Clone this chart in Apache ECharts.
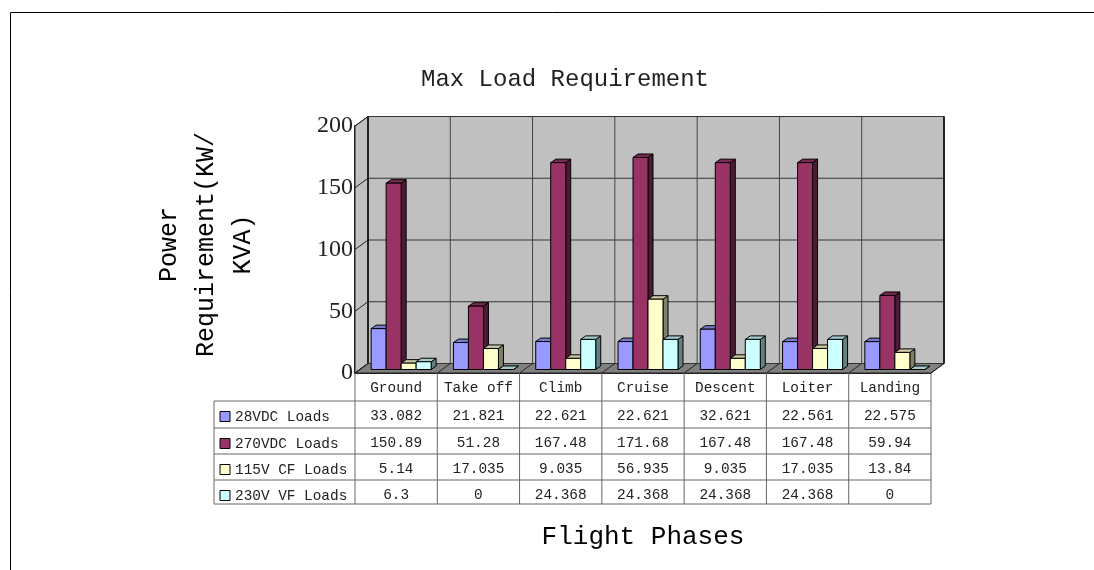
<!DOCTYPE html>
<html><head><meta charset="utf-8">
<style>html,body{margin:0;padding:0;background:#fff}#c{width:1094px;height:570px}</style>
<script src="https://cdn.jsdelivr.net/npm/echarts@6/dist/echarts.min.js"></script>
</head><body><div id="c"></div>
<script>
const categories = ['Ground','Take off','Climb','Cruise','Descent','Loiter','Landing'];
const loads28 = [33.082,21.821,22.621,22.621,32.621,22.561,22.575];
const loads270 = [150.89,51.28,167.48,171.68,167.48,167.48,59.94];
const loads115 = [5.14,17.035,9.035,56.935,9.035,17.035,13.84];
const loads230 = [6.3,0,24.368,24.368,24.368,24.368,0];
const seriesNames = ['28VDC Loads','270VDC Loads','115V CF Loads','230V VF Loads'];
const yTicks = [0,50,100,150,200];
const palette = [
  {front:'#9999FF',top:'#7a7acc',side:'#4d4d80'},
  {front:'#993366',top:'#7a2952',side:'#4d1a33'},
  {front:'#FFFFCC',top:'#cccca3',side:'#808066'},
  {front:'#CCFFFF',top:'#a3cccc',side:'#668080'}
];
const FONT = '"Liberation Mono", monospace';
const WALL_DX = 13, WALL_DY = -9.5, BAR_DX = 5, BAR_DY = -3.5;
const BAR_W = 15, BAR_SHIFT = 5;
const poly = (pts, fill, stroke, lw) => ({type:'polygon',shape:{points:pts},style:{fill:fill,stroke:stroke||'#000',lineWidth:lw===undefined?1:lw}});
const line = (x1,y1,x2,y2,stroke,lw) => ({type:'line',shape:{x1,y1,x2,y2},style:{stroke:stroke,lineWidth:lw||1,fill:null}});

function renderFrame(params, api){
  const n = categories.length;
  const w = api.size([1,0])[0];
  const x0 = api.coord([0,0])[0]-w/2, x1 = x0+n*w;
  const y0 = api.coord([0,0])[1], yT = api.coord([0,200])[1];
  const c = [];
  c.push(poly([[x0,y0],[x0+WALL_DX,y0+WALL_DY],[x0+WALL_DX,yT+WALL_DY],[x0,yT]],'#C0C0C0','#222',1));
  c.push(poly([[x0+WALL_DX,y0+WALL_DY],[x1+WALL_DX,y0+WALL_DY],[x1+WALL_DX,yT+WALL_DY],[x0+WALL_DX,yT+WALL_DY]],'#C0C0C0','#222',1));
  c.push(poly([[x0,y0],[x1,y0],[x1+WALL_DX,y0+WALL_DY],[x0+WALL_DX,y0+WALL_DY]],'#808080','#222',1));
  yTicks.forEach(t=>{
    const y = api.coord([0,t])[1];
    c.push(line(x0,y,x0+WALL_DX,y+WALL_DY,'#222',1));
    c.push(line(x0+WALL_DX,y+WALL_DY,x1+WALL_DX,y+WALL_DY,'#333',1));
  });
  for(let i=0;i<=n;i++){
    const x = x0+i*w;
    c.push(line(x,y0,x+WALL_DX,y0+WALL_DY,'#222',1));
    c.push(line(x+WALL_DX,y0+WALL_DY,x+WALL_DX,yT+WALL_DY,'#444',1));
  }
  c.push(line(x1+WALL_DX,y0+WALL_DY,x1+WALL_DX,yT+WALL_DY,'#222',2));
  c.push(line(x0+WALL_DX,y0+WALL_DY,x0+WALL_DX,yT+WALL_DY,'#222',2));
  return {type:'group',children:c};
}
function barRenderer(si){
  return function(params, api){
    const p = api.coord([api.value(0),api.value(1)]);
    const b = api.coord([api.value(0),0]);
    const col = palette[si];
    const l = p[0]+BAR_SHIFT+(si-2)*BAR_W, r = l+BAR_W;
    const t = p[1]+BAR_DY, bot = b[1]+BAR_DY;
    return {type:'group',children:[
      poly([[r,bot],[r+BAR_DX,bot+BAR_DY],[r+BAR_DX,t+BAR_DY],[r,t]],col.side),
      poly([[l,t],[r,t],[r+BAR_DX,t+BAR_DY],[l+BAR_DX,t+BAR_DY]],col.top),
      poly([[l,t],[r,t],[r,bot],[l,bot]],col.front)
    ]};
  };
}
const TABLE_LEFT = 214, HEADER_H = 28;
const ROW_LINES = [0,27,53,79,103];
function renderTable(params, api){
  const n = categories.length;
  const w = api.size([1,0])[0];
  const x0 = api.coord([0,0])[0]-w/2, x1 = x0+n*w;
  const y0 = api.coord([0,0])[1];
  const yH = y0+HEADER_H;
  const LINE = '#666';
  const c = [];
  ROW_LINES.forEach(d=>c.push(line(TABLE_LEFT,yH+d,x1,yH+d,LINE,1)));
  for(let i=0;i<=n;i++) c.push(line(x0+i*w,y0,x0+i*w,yH+ROW_LINES[4],LINE,1));
  c.push(line(TABLE_LEFT,yH,TABLE_LEFT,yH+ROW_LINES[4],LINE,1));
  const rows = [loads28,loads270,loads115,loads230];
  const txt = (x,y,s,align)=>({type:'text',style:{x,y,text:s,fill:'#222',font:'14.4px '+FONT,align:align||'center',verticalAlign:'middle'}});
  categories.forEach((cat,i)=>c.push(txt(x0+(i+.5)*w,y0+15,cat)));
  rows.forEach((vals,ri)=>{
    const cy = yH+ROW_LINES[ri]+15.5;
    c.push(poly([[220,cy-5],[230,cy-5],[230,cy+5],[220,cy+5]],palette[ri].front,'#000',1));
    c.push(txt(235,cy+1,seriesNames[ri],'left'));
    vals.forEach((v,i)=>c.push(txt(x0+(i+.5)*w,cy,String(v))));
  });
  return {type:'group',children:c};
}
const barData = [loads28,loads270,loads115,loads230];
const chart = echarts.init(document.getElementById('c'),null,{renderer:'canvas'});
chart.setOption({
  backgroundColor:'#fff',
  animation:false,
  title:{text:'Max Load Requirement',left:560,top:63,textAlign:'center',textStyle:{fontFamily:FONT,fontSize:24,fontWeight:'normal',color:'#222'}},
  grid:{left:355,top:126,width:576,height:247,containLabel:false},
  xAxis:{type:'category',data:categories,name:'Flight Phases',nameLocation:'middle',nameGap:151,
    nameTextStyle:{fontFamily:FONT,fontSize:26,color:'#000'},
    axisLine:{lineStyle:{color:'#222',width:1}},axisTick:{show:false},axisLabel:{show:false}},
  yAxis:{type:'value',min:0,max:200,interval:50,
    name:'Power\nRequirement(KW/\nKVA)',nameLocation:'middle',nameRotate:90,nameGap:93,
    nameTextStyle:{fontFamily:FONT,fontSize:25,color:'#000',lineHeight:37,align:'center',padding:[0,0,0,10]},
    axisLine:{show:true,onZero:false,lineStyle:{color:'#222',width:2}},
    axisTick:{show:true,inside:true,length:5,lineStyle:{color:'#222'}},
    axisLabel:{fontFamily:'"Liberation Serif", serif',fontSize:24,color:'#222',margin:2},
    splitLine:{show:false}},
  graphic:[
    {type:'line',shape:{x1:10.5,y1:12.5,x2:1094,y2:12.5},style:{stroke:'#000',lineWidth:1}},
    {type:'line',shape:{x1:10.5,y1:12.5,x2:10.5,y2:570},style:{stroke:'#000',lineWidth:1}}
  ],
  series:[
    {type:'custom',name:'frame',coordinateSystem:'cartesian2d',silent:true,clip:false,z:1,renderItem:renderFrame,data:[[0,0]]},
    ...barData.map((vals,si)=>({type:'custom',name:seriesNames[si],coordinateSystem:'cartesian2d',clip:false,z:2+si,
      renderItem:barRenderer(si),encode:{x:0,y:1},data:vals.map((v,i)=>[i,v])})),
    {type:'custom',name:'table',coordinateSystem:'cartesian2d',silent:true,clip:false,z:7,renderItem:renderTable,data:[[0,0]]}
  ]
});
</script></body></html>
